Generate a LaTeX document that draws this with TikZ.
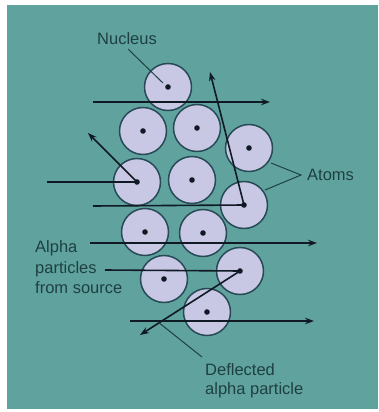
\documentclass[tikz,border=0pt]{standalone}
\usepackage{fontspec}
\setmainfont{Liberation Sans}
\usetikzlibrary{arrows.meta}
\definecolor{bgteal}{RGB}{96,163,158}
\definecolor{atomfill}{RGB}{200,200,228}
\definecolor{atomedge}{RGB}{40,74,86}
\definecolor{ink}{RGB}{16,26,36}
\definecolor{labelink}{RGB}{30,64,66}
\tikzset{
  atom/.style={circle, draw=atomedge, line width=1.5pt, fill=atomfill, minimum size=47pt, inner sep=0pt},
  particle/.style={draw=ink, line width=1.6pt},
  ray/.style={particle, -{Stealth[length=9pt,width=6.5pt]}},
  leader/.style={draw=labelink, line width=1pt},
  lbl/.style={text=labelink, font=\fontsize{16.5}{20}\selectfont, inner sep=0pt}
}
\begin{document}
\begin{tikzpicture}[x=1pt,y=-1pt]
\useasboundingbox (0,0) rectangle (378,412);
\fill[white] (0,0) rectangle (378,412);
\fill[bgteal] (7,5) rectangle (378,409);
% atoms
\foreach \n/\x/\y in {a1/168/87, a2/143/131, a3/197/128, a4/249/148, a5/137/182, a6/192/180,
  a7/244/205, a8/145/232, a9/203/233, a10/164/279, a11/240/271, a12/207/312}{
  \node[atom] (\n) at (\x,\y) {};
  \fill[ink] (\n.center) circle (2.8pt);
}
% free ends
\coordinate (p1s) at (93,102);  \coordinate (p1e) at (270,102);
\coordinate (p2s) at (93,206);  \coordinate (p2e) at (210,72);
\coordinate (p3s) at (47,182);  \coordinate (p3e) at (88,133);
\coordinate (p4s) at (90,243);  \coordinate (p4e) at (317,243);
\coordinate (p5s) at (105,270); \coordinate (p5e) at (140,335);
\coordinate (p6s) at (130,321); \coordinate (p6e) at (314,321);
% particle paths
\draw[ray] (p1s) -- (p1e);
\draw[particle] (p2s) -- (a7.center);
\draw[ray] (a7.center) -- (p2e);
\draw[particle] (p3s) -- (a5.center);
\draw[ray] (a5.center) -- (p3e);
\draw[ray] (p4s) -- (p4e);
\draw[particle] (p5s) -- (a11.center);
\draw[ray] (a11.center) -- (p5e);
\draw[ray] (p6s) -- (p6e);
% labels
\node[lbl, anchor=base west] (nuc) at (97,45) {Nucleus};
\node[lbl, anchor=base west] (atoms) at (307,180) {Atoms};
\node[lbl, anchor=base west] (al1) at (35,252) {Alpha};
\node[lbl, anchor=base west] (al2) at (35,273) {particles};
\node[lbl, anchor=base west] (al3) at (35,293) {from source};
\node[lbl, anchor=base west] (df1) at (205,375) {Deflected};
\node[lbl, anchor=base west] (df2) at (205,394) {alpha particle};
% leaders
\coordinate (nucA) at (128,49);
\coordinate (nucB) at (163,83);
\draw[leader] (nucA) -- (nucB);
\coordinate (atA) at (301,175);
\coordinate (atB) at (271,163);
\coordinate (atC) at (265,190);
\draw[leader] (atB) -- (atA) -- (atC);
\coordinate (dfA) at (202,357);
\coordinate (dfB) at (158,322);
\draw[leader] (dfA) -- (dfB);
\end{tikzpicture}
\end{document}
